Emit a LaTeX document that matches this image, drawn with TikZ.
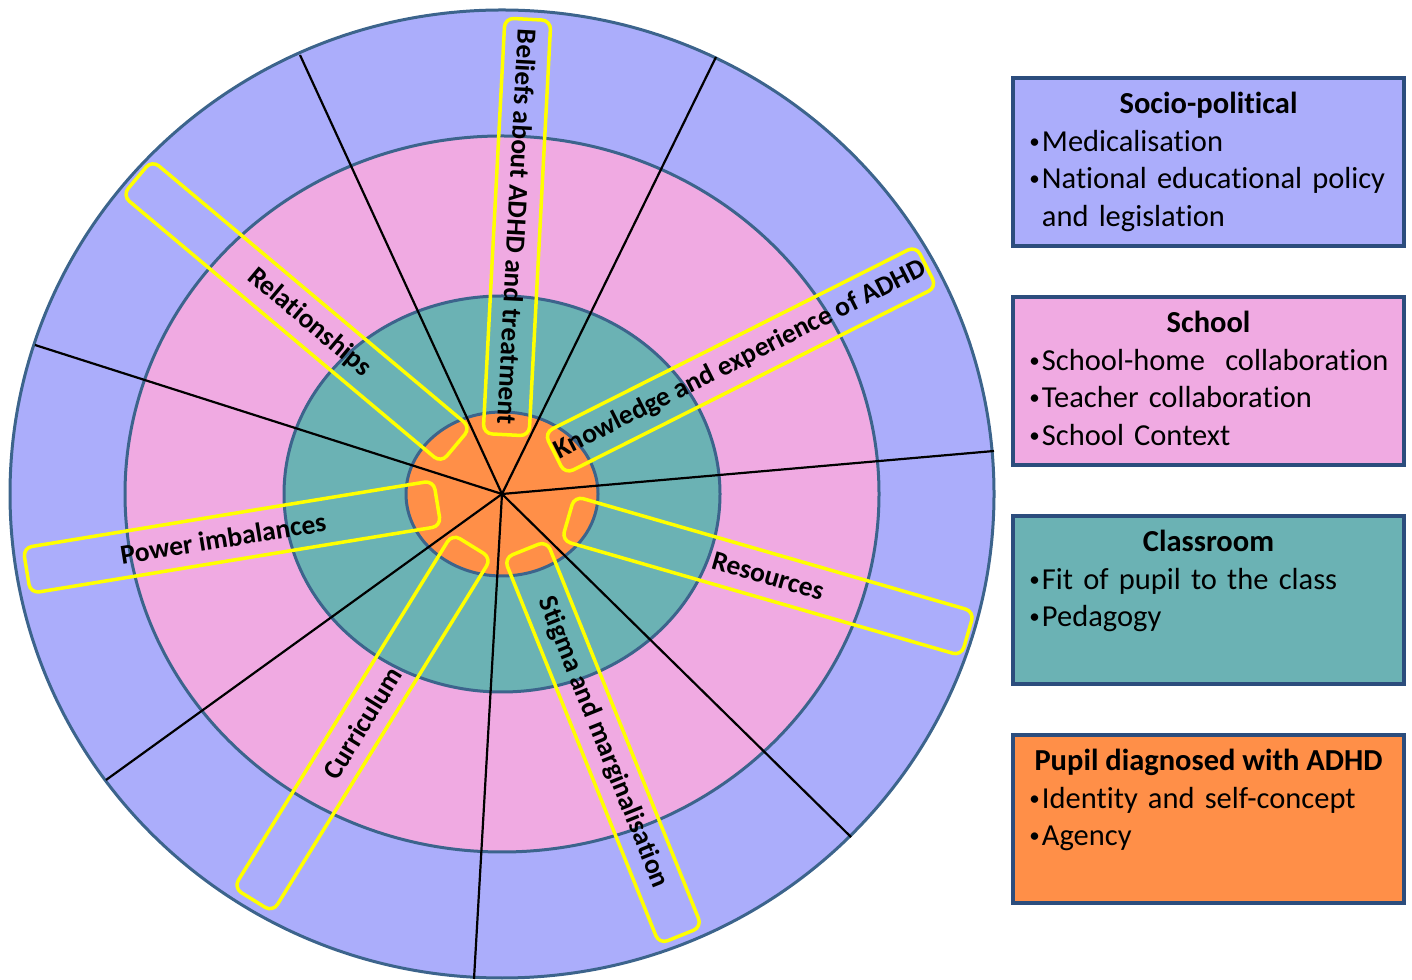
\documentclass[tikz,border=0pt]{standalone}
\usepackage{fontspec}
\setmainfont{Carlito}[Ligatures=NoCommon]
\usetikzlibrary{positioning}
\definecolor{socioblue}{RGB}{171,173,251}
\definecolor{schoolpink}{RGB}{240,170,226}
\definecolor{classteal}{RGB}{107,178,180}
\definecolor{pupilorange}{RGB}{255,143,72}
\definecolor{ringedge}{RGB}{60,100,140}
\definecolor{legedge}{RGB}{44,77,125}
\definecolor{themeyellow}{RGB}{255,255,0}
\newcommand{\legbullet}{\makebox[12.5pt][l]{\raisebox{3pt}{\fontsize{21}{21}\selectfont•}}}
\tikzset{
  ring/.style={draw=ringedge, line width=3pt},
  spoke/.style={line width=2.2pt},
  theme/.style={draw=themeyellow, line width=3.5pt, rounded corners=9pt,
    minimum width=416pt, minimum height=46pt, inner sep=0pt,
    font={\fontsize{27.5}{30}\selectfont\bfseries}},
  legbox/.style={draw=legedge, line width=3.5pt, minimum width=391pt,
    minimum height=168pt, inner sep=0pt},
  legtitle/.style={font={\fontsize{30.5}{37.5}\selectfont\bfseries}, inner sep=0pt},
  leglist/.style={font={\fontsize{30.5}{37.5}\selectfont}, text width=385pt,
    align=left, inner sep=0pt}
}
\begin{document}
\begin{tikzpicture}[x=1pt, y=1pt, node distance=47.5pt]
\useasboundingbox (0,0) rectangle (1412,979);

% rings
\coordinate (ctr) at (502,485);
\draw[ring, fill=socioblue] (ctr) ellipse [x radius=492, y radius=484];
\draw[ring, fill=schoolpink] (ctr) ellipse [x radius=377, y radius=358];
\draw[ring, fill=classteal] (ctr) ellipse [x radius=218, y radius=198];
\draw[ring, fill=pupilorange] (ctr) ellipse [x radius=96, y radius=82];

% spokes
\foreach \x/\y [count=\i] in {300/924, 716/922, 994/528, 851/142, 474/0, 106/199, 35/634}
  \coordinate (s\i) at (\x,\y);
\foreach \i in {1,...,7}
  \draw[spoke] (ctr) -- (s\i);

% themes
\node[theme, rotate=-40] (relations) at (296.5,667.5) {\hspace*{34pt}Relationships};
\node[theme, rotate=-93] (beliefs) at (517,752) {Beliefs about ADHD and treatment};
\node[theme, rotate=26.7] (knowledge) at (740.5,619) {Knowledge and experience of ADHD};
\node[theme, rotate=-16.1] (resources) at (768,403) {Resources};
\node[theme, rotate=-68.1] (stigma) at (603,236.5) {Stigma and marginalisation};
\node[theme, rotate=58.3] (curriculum) at (362.5,256) {Curriculum};
\node[theme, rotate=9.3] (power) at (232,442) {Power imbalances\hspace*{18pt}};

% legend
\node[legbox, fill=socioblue] (socio) at (1208.5,817) {};
\node[legbox, fill=schoolpink, below=of socio] (school) {};
\node[legbox, fill=classteal, below=of school] (classroom) {};
\node[legbox, fill=pupilorange, below=of classroom] (pupil) {};

\node[legtitle, anchor=base] (sociotitle) at ([yshift=-37]socio.north) {Socio-political};
\node[leglist, anchor=base west] (sociolist) at ([xshift=18,yshift=-75]socio.north west)
  {\legbullet Medicalisation\\ \legbullet National educational policy\\ \hspace*{12.5pt}and legislation};
\node[legtitle, anchor=base] (schooltitle) at ([yshift=-37]school.north) {School};
\node[leglist, anchor=base west] (schoollist) at ([xshift=18,yshift=-75]school.north west)
  {\legbullet School-home~ collaboration\\ \legbullet Teacher collaboration\\ \legbullet School Context};
\node[legtitle, anchor=base] (classtitle) at ([yshift=-37]classroom.north) {Classroom};
\node[leglist, anchor=base west] (classlist) at ([xshift=18,yshift=-75]classroom.north west)
  {\legbullet Fit of pupil to the class\\ \legbullet Pedagogy};
\node[legtitle, anchor=base] (pupiltitle) at ([yshift=-37]pupil.north) {Pupil diagnosed with ADHD};
\node[leglist, anchor=base west] (pupillist) at ([xshift=18,yshift=-75]pupil.north west)
  {\legbullet Identity and self-concept\\ \legbullet Agency};
\end{tikzpicture}
\end{document}
